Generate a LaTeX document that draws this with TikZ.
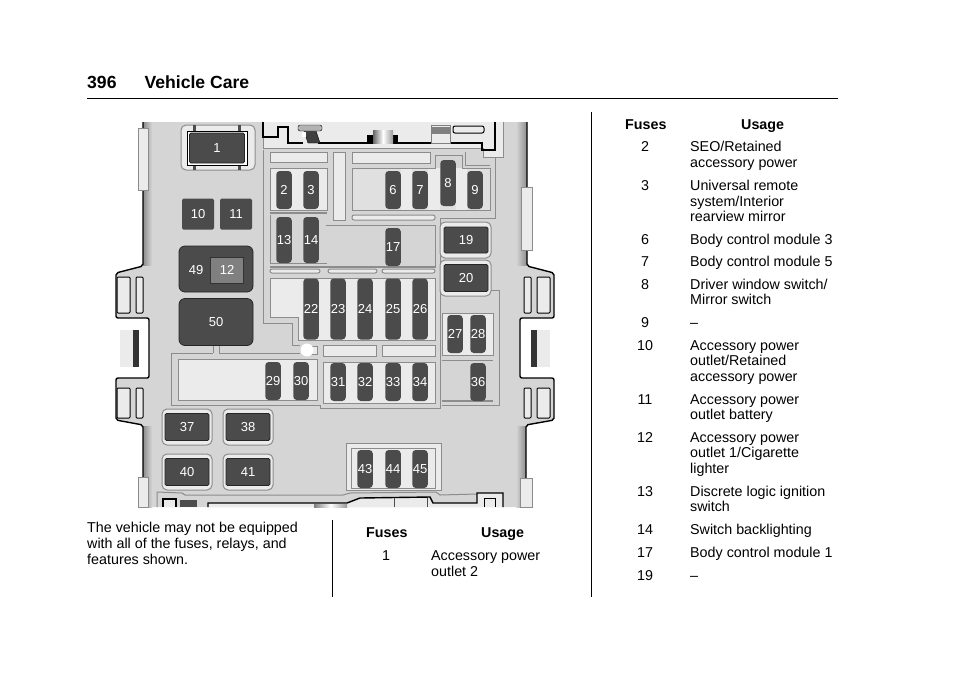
\documentclass[tikz,border=0pt]{standalone}
\usepackage{fontspec}
\setmainfont{Liberation Sans}
\usepackage{xcolor}
\definecolor{boxgray}{HTML}{D5D5D5}
\definecolor{panellight}{HTML}{EBEBEB}
\definecolor{fusedark}{HTML}{4B4B4B}
\definecolor{linegray}{HTML}{8C8C8C}
\tikzset{
  fuse/.style={draw=none,fill=fusedark,rounded corners=3.5pt,minimum width=15.5pt,inner sep=0pt,text=white,font=\fontsize{13}{14}\selectfont},
  relay/.style={draw=black!85,line width=.8pt,fill=fusedark,rounded corners=1.5pt,inner sep=0pt,text=white,font=\fontsize{13}{14}\selectfont},
  relayframe/.style={draw=linegray,line width=1pt,fill=panellight,rounded corners=5pt},
  panel/.style={draw=linegray,line width=1pt,fill=panellight},
  edge/.style={draw=black,line width=1.4pt,rounded corners=2pt},
  txt/.style={anchor=base west,inner sep=0pt,font=\fontsize{14.3}{16}\selectfont},
  num/.style={anchor=base,inner sep=0pt,font=\fontsize{14.3}{16}\selectfont},
  headtxt/.style={txt,font=\fontsize{14.3}{16}\bfseries\selectfont}
}
\begin{document}
\begin{tikzpicture}[x=1pt,y=-1pt]
\useasboundingbox (0,0) rectangle (960,678);
\fill[white] (0,0) rectangle (960,678);
% body of the box
\fill[boxgray,rounded corners=2pt] (143,122) -- (143,266) -- (116,273) -- (116,318) -- (149,318) -- (149,378) -- (116,378) -- (116,420) -- (143,425) -- (143,507) -- (526,507) -- (526,425) -- (554,420) -- (554,378) -- (520,378) -- (520,318) -- (554,318) -- (554,273) -- (527,266) -- (527,122) -- cycle;
\fill[white] (116,319) rectangle (130,377.2);
\fill[white] (540,319) rectangle (554,377.2);
% shading along the edges
\shade[left color=black!45,right color=boxgray] (143,122) rectangle (152,265);
\shade[left color=black!45,right color=boxgray] (143,426) rectangle (152,507);
\shade[left color=boxgray,right color=black!45] (516,122) rectangle (527,265);
\shade[left color=boxgray,right color=black!45] (516,426) rectangle (526,507);
\draw[edge] (143,122) -- (143,266) -- (116,273) -- (116,318) -- (149,318) -- (149,378) -- (116,378) -- (116,420) -- (143,425) -- (143,507);
\draw[edge] (527,122) -- (527,266) -- (554,273) -- (554,318) -- (520,318) -- (520,378) -- (554,378) -- (554,420) -- (526,425) -- (526,507);
\fill[white] (115,319) rectangle (130,377.2);
\fill[white] (540,319) rectangle (555,377.2);
% tabs at the edges
\filldraw[fill=panellight,draw=linegray] (138,128) rectangle (148,190);
\filldraw[fill=panellight,draw=linegray] (521,187) rectangle (532,250);
\filldraw[fill=panellight,draw=linegray] (138,477) rectangle (148,507);
\filldraw[fill=panellight,draw=linegray] (520,478) rectangle (532,507);
\foreach \x/\w in {117/13,136/7,524/7,537/13} {
  \draw[black,line width=1pt,fill=panellight,rounded corners=1pt] (\x,277) rectangle ++(\w,36);
  \draw[black,line width=1pt,fill=panellight,rounded corners=1pt] (\x,388) rectangle ++(\w,30);
}
\filldraw[fill=panellight,draw=none] (120,330) rectangle (133,367);
\fill[black!80] (133,330) rectangle (139,367);
\filldraw[fill=panellight,draw=none] (537,330) rectangle (550,367);
\fill[black!80] (531,330) rectangle (537,367);
% top mouldings
\filldraw[fill=panellight,draw=linegray,line width=1pt] (263,122) -- (263,148) -- (483,148) -- (483,157) -- (503,157) -- (503,122);
\draw[black,line width=1.4pt] (263,122) -- (263,137) -- (278,137) -- (278,127) -- (288,127) -- (288,143) -- (303,143);
\draw[black,line width=1.4pt] (318,143) -- (482,143) -- (482,150) -- (495,150) -- (495,122);
\filldraw[fill=black!75,draw=black] (303,128) -- (315,128) -- (320,143) -- (308,143) -- cycle;
\filldraw[fill=black!30,draw=black,rounded corners=2pt] (298,125) rectangle (322,131);
\fill[white] (302,132) rectangle (306,137);
\fill[black] (367,135) rectangle (398,143);
\shade[left color=black!60,right color=black!40,middle color=white] (373,130) rectangle (393,143);
\filldraw[fill=panellight,draw=black!50] (431,125) rectangle (450,143);
\fill[black!50] (431,127) rectangle (450,134);
\filldraw[fill=panellight,draw=black,line width=1pt,rounded corners=2pt] (453,126) rectangle (484,133);
% bottom mouldings
\draw[linegray,line width=1pt] (157,507) -- (157,492) -- (182,493) -- (185,495) -- (343,495) -- (350,493) -- (436,492) -- (440,495) -- (477,494);
\filldraw[fill=panellight,draw=black,line width=1.4pt] (208,507) -- (208,503) -- (347,503) -- (360,498) -- (430,497) -- (433,503) -- (477,503) -- (477,493) -- (503,493) -- (503,507);
\shade[left color=black!50,right color=black!40,middle color=white] (314,504) rectangle (347,507);
\foreach \x in {394,427} \draw[black!70] (\x,498) -- (\x,507);
\draw[black,line width=1pt] (484,507) -- (484,498) -- (495,498) -- (495,507);
\draw[black,line width=1.2pt,fill=panellight] (163,507) -- (163,499) -- (176,499) -- (176,507);
\fill[black!70] (180,500) rectangle (197,507);
% top frame round relay 1
\filldraw[relayframe] (181,125) rectangle (255,170);
\fill[black!70] (193,125) rectangle (196,170);
\fill[black!70] (238,125) rectangle (241,170);
\draw[black,line width=1pt,fill=white] (187,131) rectangle (247,165);
% light strips
\filldraw[panel] (270,152) rectangle (327,162);
\filldraw[panel] (333,152) rectangle (345,220);
\filldraw[panel] (352,152) rectangle (430,163);
\draw[linegray,line width=1pt] (465,152) -- (465,165) -- (490,165);
\filldraw[panel,rounded corners=2pt] (352,215) rectangle (435,220);
\filldraw[panel,rounded corners=2pt] (270,269) rectangle (320,273);
\filldraw[panel,rounded corners=2pt] (328,269) rectangle (377,273);
\filldraw[panel,rounded corners=2pt] (382,269) rectangle (435,273);
\filldraw[panel] (310,346) rectangle (317,354);
\filldraw[panel] (323,345) rectangle (376,356);
\filldraw[panel] (382,345) rectangle (435,356);
% panels under the fuses
\filldraw[panel] (270,168) rectangle (327,210);
\draw[linegray,line width=2pt] (270,212.5) -- (327,212.5);
\draw[linegray,line width=1pt] (270,215) -- (270,263) -- (327,263);
\fill[boxgray!50!panellight] (352,168) rectangle (490,210);
\fill[panellight] (401,168) rectangle (412,210);
\fill[panellight] (428,168) rectangle (440,210);
\fill[panellight] (456,168) rectangle (467,210);
\draw[linegray,line width=1pt] (435,168) -- (352,168) -- (352,210) -- (490,210) -- (490,168) -- (462,168) -- (462,155) -- (435,155) -- cycle;
\draw[linegray,line width=1pt] (326,225) -- (435,225) -- (435,268);
\draw[linegray,line width=1.6pt] (270,267) -- (435,267);
\filldraw[panel] (270,278) -- (435,278) -- (435,340) -- (298,340) -- (298,317) -- (270,317) -- cycle;
\draw[linegray,line width=1pt] (263,150) -- (263,323) -- (292,323) -- (292,345) -- (300,345);
\filldraw[panel] (178,359) rectangle (317,400);
\draw[linegray,line width=1pt] (213,353) -- (171,353) -- (171,405) -- (320,405) -- (320,408) -- (440,408) -- (440,218) -- (495,218) -- (495,158);
\draw[linegray,line width=1pt] (213,345) -- (213,353);
\draw[linegray,line width=1pt] (219,345) -- (219,353) -- (300,353);
\filldraw[panel] (323,362) rectangle (435,403);
\filldraw[panel] (442,313) rectangle (493,355);
\draw[linegray,line width=1pt] (442,360) -- (493,360);
\draw[linegray,line width=1.5pt] (442,401) -- (493,401);
\draw[linegray,line width=1pt] (442,290) -- (499,290) -- (499,405) -- (442,405);
\filldraw[panel] (346,443) rectangle (441,490);
\draw[linegray,line width=1pt] (351,448) rectangle (435,488);
\fill[white] (307,350) circle (6.5);
% frames of the relays
\filldraw[relayframe] (440,222) rectangle (491,258);
\filldraw[relayframe] (440,260) rectangle (491,296);
\foreach \x/\y in {162/409,223/409,162/454,223/454} \filldraw[relayframe] (\x,\y) rectangle ++(50,36);
% small relays and fuses
\node[relay,minimum width=55pt,minimum height=30pt] (r1) at (217,148) {1};
\node[relay,draw=none,minimum width=32pt,minimum height=31pt] (r10) at (198,214) {10};
\node[relay,draw=none,minimum width=32pt,minimum height=31pt] (r11) at (236,214) {11};
\foreach \n/\x/\y/\w/\h in {19/466/240/44/26,20/466/278/44/27,37/187/427/44/27,38/248/427/44/27,40/187/472/44/27,41/248/472/44/27}
  \node[relay,minimum width=\w pt,minimum height=\h pt] (r\n) at (\x,\y) {\n};
\node[relay,rounded corners=6pt,minimum width=74pt,minimum height=46pt] (r49) at (216,269) {};
\node[inner sep=0pt,text=white,font=\fontsize{13}{14}\selectfont] (l49) at (196,270) {49};
\node[relay,fill=black!50,draw=black!80,rounded corners=0pt,minimum width=33pt,minimum height=26pt] (r12) at (227,270) {12};
\node[relay,rounded corners=6pt,minimum width=74pt,minimum height=47pt] (r50) at (216,322) {50};
\foreach \n/\x/\y/\h in {2/284/190/38,3/311/190/38,6/393/190/38,7/420/190/38,8/448/183/46,9/475/190/38,13/284/240/46,14/311/240/46,17/393/247/38,22/311/309/61,23/338/309/61,24/365/309/61,25/393/309/61,26/420/309/61,27/455/334/38,28/478/334/38,29/273/381/38,30/301/381/38,31/338/382/38,32/365/382/38,33/393/382/38,34/420/382/38,36/478/382/38,43/365/469/38,44/393/469/38,45/420/469/38}
  \node[fuse,minimum height=\h pt] (f\n) at (\x,\y) {\n};
% page text
\node[anchor=base west,inner sep=0pt,font=\fontsize{17.6}{18}\bfseries\selectfont] (head) at (87,88) {396\hspace{28pt}Vehicle Care};
\draw[black,line width=.8pt] (87,98.5) -- (838,98.5);
\draw[black,line width=.8pt] (332.5,520) -- (332.5,597);
\draw[black,line width=.8pt] (591.5,112) -- (591.5,597);
\foreach \y/\s [count=\i] in {532/{The vehicle may not be equipped},548/{with all of the fuses, relays, and},564/{features shown.}}
  \node[txt] (intro\i) at (87,\y) {\s};
\node[headtxt] (fa) at (366,537) {Fuses};
\node[headtxt] (ua) at (481,537) {Usage};
\node[num] (n1) at (386,560) {1};
\node[txt] (d1a) at (431,560) {Accessory power};
\node[txt] (d1b) at (431,576) {outlet 2};
\node[headtxt] (fb) at (625,129) {Fuses};
\node[headtxt] (ub) at (741,129) {Usage};
\foreach \n/\y in {2/151,3/190,6/244,7/266,8/289,9/327,10/350,11/404,12/442,13/496,14/534,17/557,19/580}
  \node[num] (n\n) at (645,\y) {\n};
\foreach \y/\s [count=\i] in {151/{SEO/Retained},167/{accessory power},190/{Universal remote},206/{system/Interior},221/{rearview mirror},244/{Body control module 3},266/{Body control module 5},289/{Driver window switch/},304/{Mirror switch},327/{–},350/{Accessory power},365/{outlet/Retained},381/{accessory power},404/{Accessory power},419/{outlet battery},442/{Accessory power},457/{outlet 1/Cigarette},473/{lighter},496/{Discrete logic ignition},511/{switch},534/{Switch backlighting},557/{Body control module 1},580/{–}}
  \node[txt] (d\i) at (690,\y) {\s};
\end{tikzpicture}
\end{document}
